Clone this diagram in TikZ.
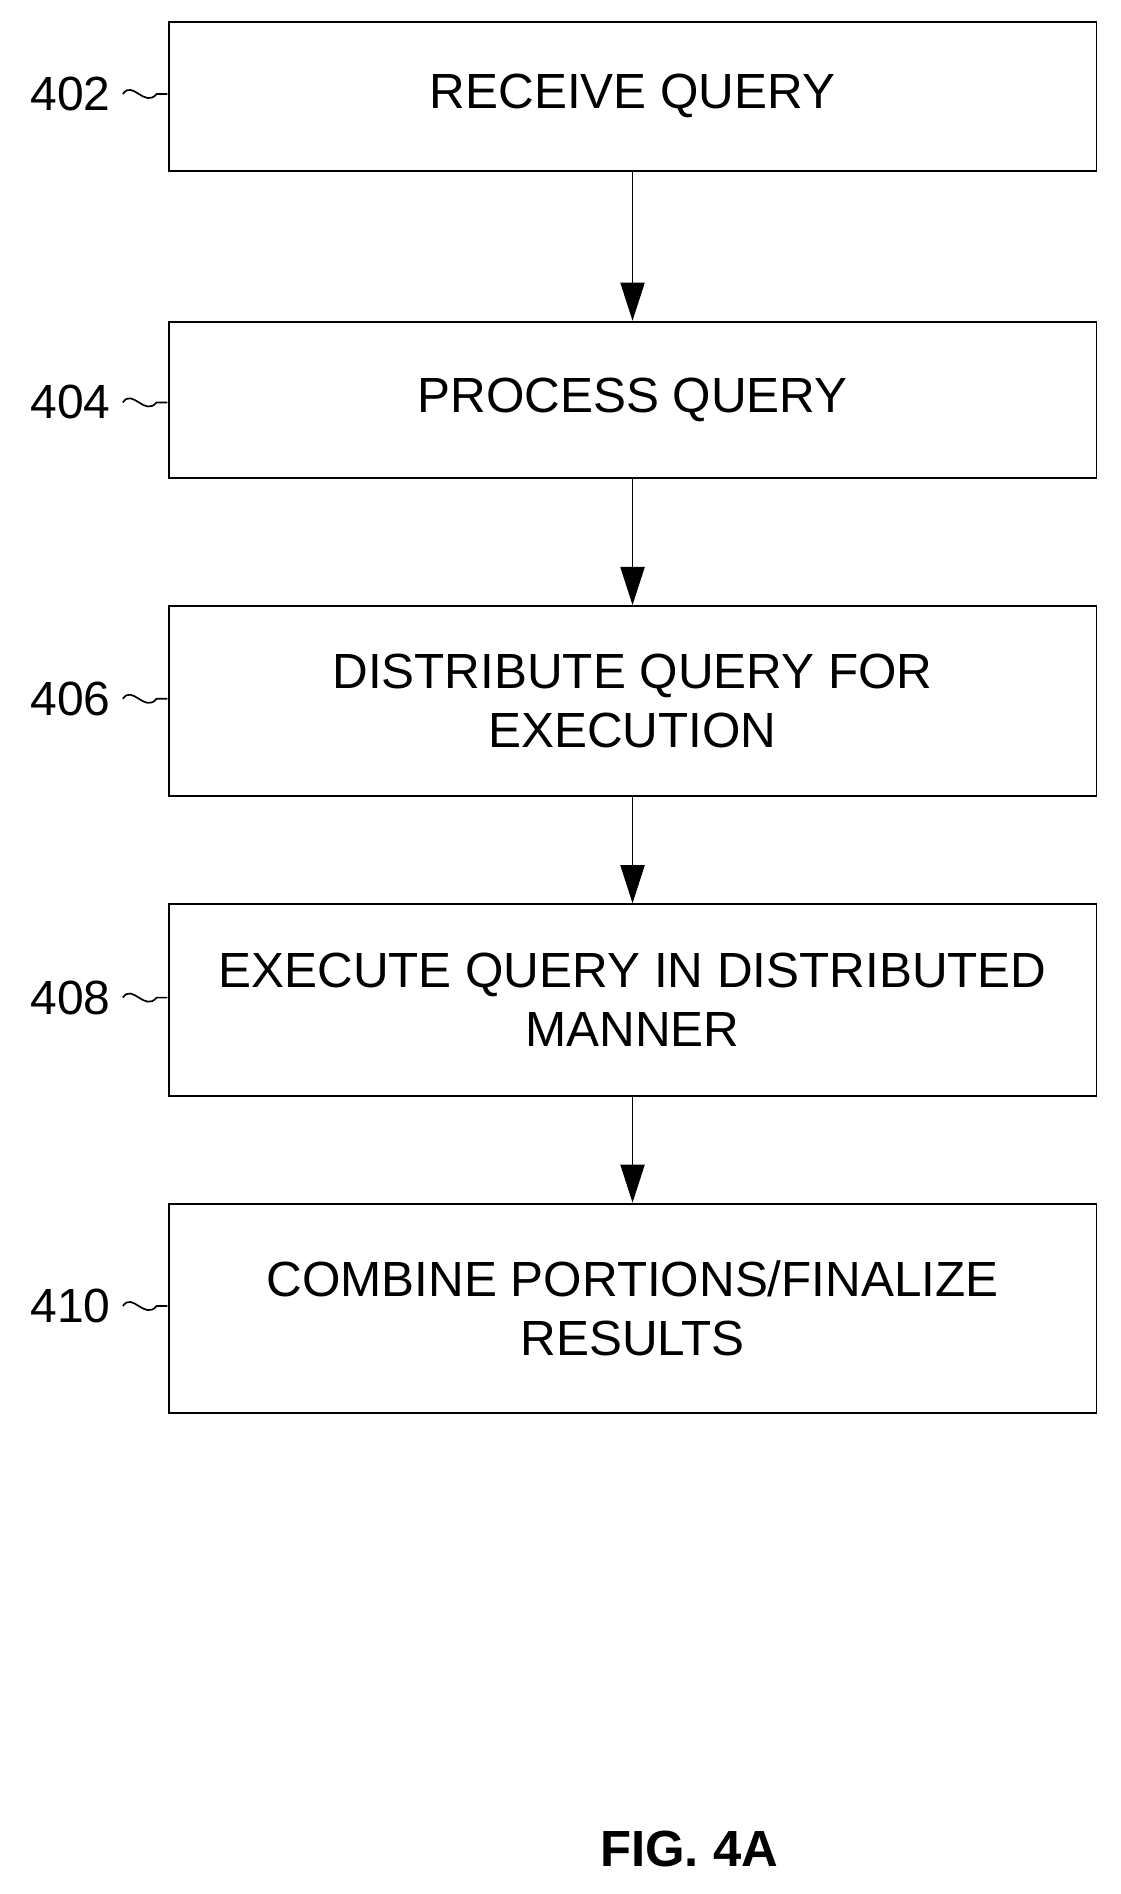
\documentclass[tikz,border=0pt]{standalone}
\usepackage{fontspec}
\setmainfont{Liberation Sans}
\usetikzlibrary{positioning,arrows.meta}

\tikzset{
	stepbox/.style={draw,line width=1.3pt,minimum width=23.1cm,align=center,font=\fontsize{35}{42}\selectfont},
	flow/.style={-{Triangle[length=0.95cm,width=0.6cm]},line width=1.3pt},
	ref/.style={font=\fontsize{34}{40}\selectfont,anchor=east}
}

\begin{document}
\begin{tikzpicture}[x=0.03cm,y=-0.03cm]
	\useasboundingbox (0,0) rectangle (930,1572);
	\node [stepbox,minimum height=3.72cm] (s402) at (525,80)   {RECEIVE QUERY};
	\node [stepbox,minimum height=3.9cm]  (s404) at (525,332)  {PROCESS QUERY};
	\node [stepbox,minimum height=4.74cm] (s406) at (525,582)  {DISTRIBUTE QUERY FOR\\EXECUTION};
	\node [stepbox,minimum height=4.77cm] (s408) at (525,830)  {EXECUTE QUERY IN DISTRIBUTED\\MANNER};
	\node [stepbox,minimum height=5.22cm] (s410) at (525,1086) {COMBINE PORTIONS/FINALIZE\\RESULTS};

	\draw [flow] (s402) -- (s404);
	\draw [flow] (s404) -- (s406);
	\draw [flow] (s406) -- (s408);
	\draw [flow] (s408) -- (s410);

	% reference numerals
	\foreach \n/\y in {402/78,404/334,406/580,408/828,410/1084}{
		\node [ref] (l\n) at (96,\y) {\n};
		\draw [line width=1.2pt] (102,\y) .. controls (110,\y-12) and (120,\y+12) .. (130,\y) -- (139,\y);
	}

	\node [font=\bfseries\fontsize{36}{40}\selectfont] (fig) at (572,1535) {FIG. 4A};
\end{tikzpicture}
\end{document}
